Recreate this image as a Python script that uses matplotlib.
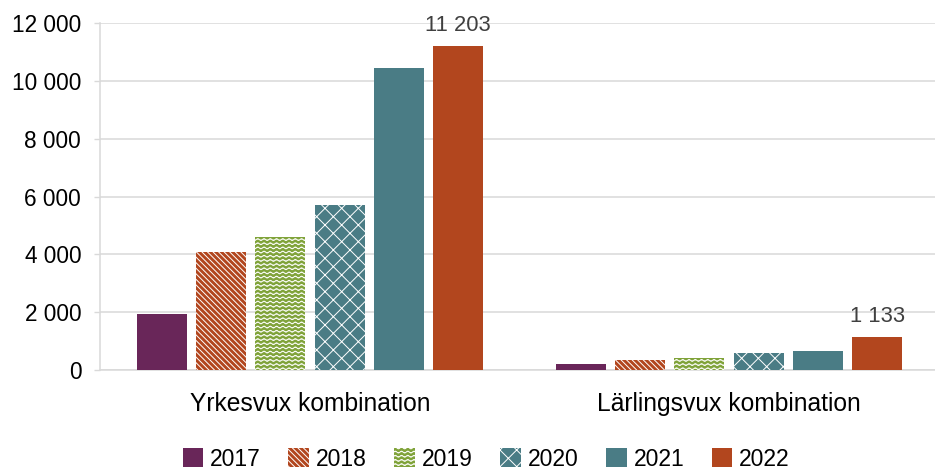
import warnings
import numpy as np
import matplotlib
matplotlib.use("Agg")
import matplotlib.pyplot as plt
from matplotlib import hatch as mhatch
from matplotlib.path import Path

warnings.filterwarnings("ignore")

# Data
kategorier = ["Yrkesvux kombination", "Lärlingsvux kombination"]
ar = ["2017", "2018", "2019", "2020", "2021", "2022"]
varden = {
    "2017": [1930, 220],
    "2018": [4070, 330],
    "2019": [4600, 400],
    "2020": [5710, 580],
    "2021": [10450, 650],
    "2022": [11203, 1133],
}
farger = ["#692659", "#B2461E", "#80A33A", "#4A7C85", "#4A7C85", "#B2461E"]
monster = [None, "\\" * 6, "~~~~", "xx", None, None]


class WaveHatch(mhatch.HatchPatternBase):
    """Vågmönster (finns inte i matplotlib)"""
    def __init__(self, hatch, density):
        self.num_rows = int(hatch.count("~") * density)
        self.pts = 161
        self.num_vertices = self.num_rows * self.pts

    def set_vertices_and_codes(self, vertices, codes):
        x = np.linspace(0.0, 1.0, self.pts)
        y = 0.009 * np.sin(2 * np.pi * 16 * x)
        steps = (np.arange(self.num_rows) + 0.5) / self.num_rows
        for r, s in enumerate(steps):
            sl = slice(r * self.pts, (r + 1) * self.pts)
            vertices[sl, 0] = x
            vertices[sl, 1] = s + y
            codes[sl] = Path.LINETO
            codes[r * self.pts] = Path.MOVETO


mhatch._hatch_types.append(WaveHatch)

plt.rcParams["font.family"] = ["Liberation Sans", "DejaVu Sans"]
plt.rcParams["hatch.linewidth"] = 0.7

fig = plt.figure(figsize=(9.35, 4.7), dpi=100)
ax = fig.add_axes([100 / 935, 1 - 370 / 470, 835 / 935, 347 / 470])

x = np.arange(len(kategorier))
bredd = 0.1193
steg = 0.1415
behallare = []
for i, a in enumerate(ar):
    bars = ax.bar(x + (i - 2.5) * steg, varden[a], width=bredd, color=farger[i],
                  edgecolor="white", linewidth=0, hatch=monster[i], label=a, zorder=3)
    behallare.append(bars)

# Etiketter bara för 2022
etiketter = [f"{v:,}".replace(",", " ") for v in varden["2022"]]
ax.bar_label(behallare[-1], labels=etiketter, padding=7.5, fontsize=15.8, color="#404040")

ax.set_ylim(0, 12000)
ax.set_xlim(-0.501, 1.492)
ax.set_yticks(np.arange(0, 12001, 2000))
ax.set_yticklabels([f"{int(v):,}".replace(",", " ") for v in ax.get_yticks()])
ax.set_xticks(x)
ax.set_xticklabels(kategorier, fontsize=17.7)
ax.tick_params(axis="x", length=0, pad=16)
ax.tick_params(axis="y", length=4.5, width=1, color="#D9D9D9", pad=9, labelsize=16.3)

ax.grid(axis="y", color="#D9D9D9", linewidth=1.1, zorder=0)
for s in ["top", "right"]:
    ax.spines[s].set_visible(False)
for s in ["left", "bottom"]:
    ax.spines[s].set_color("#D9D9D9")
    ax.spines[s].set_linewidth(1.1)

fig.legend(loc="center", bbox_to_anchor=(0.52, 1 - 459 / 470), ncol=6, frameon=False,
           fontsize=16.5, handlelength=0.9, handleheight=0.9, handletextpad=0.3,
           columnspacing=1.2)

fig.savefig("out.png", dpi=100)
